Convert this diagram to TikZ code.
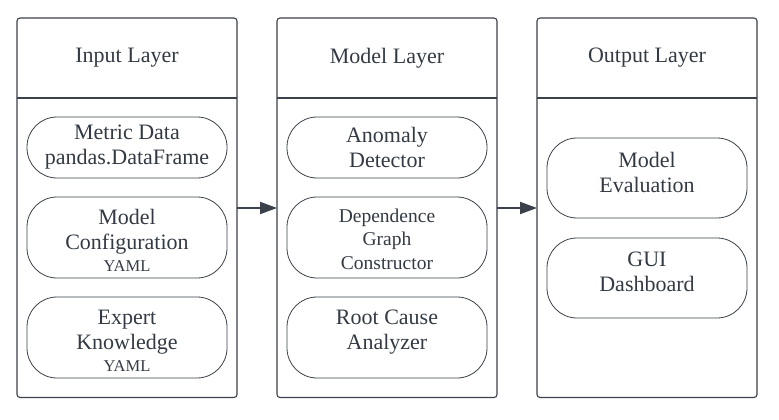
\documentclass[tikz,border=0pt]{standalone}
\usepackage{fontspec}
\setmainfont{Liberation Serif}
\usetikzlibrary{arrows.meta}
\definecolor{ln}{HTML}{3A414A}
\definecolor{tx}{HTML}{333A44}
\newcommand\yamlsz{\fontsize{16.5}{20}\selectfont}
\begin{document}
\begin{tikzpicture}[x=1pt,y=-1pt,
  layer/.style={draw=ln,line width=1.1pt,rounded corners=3pt},
  pill/.style={draw=ln,line width=0.8pt,rounded corners=30pt},
  ttl/.style={text=tx,font=\fontsize{22}{25}\selectfont},
  ptxt/.style={text=tx,align=center,font=\fontsize{22}{25}\selectfont,inner sep=0pt},
  stxt/.style={text=tx,align=center,font=\fontsize{19.5}{23.5}\selectfont,inner sep=0pt},
  flow/.style={draw=ln,line width=2pt,-{Triangle[length=17pt,width=12pt]}}]
\useasboundingbox (0,0) rectangle (779,420);
% layers
\foreach \n/\x/\t in {in/17/Input Layer,mo/277/Model Layer,out/537/Output Layer}{
  \draw[layer] (\x,18) rectangle (\x+220,397.5);
  \draw[ln,line width=1.1pt] (\x,98) -- (\x+220,98);
  \node[ttl] (\n t) at (\x+110,58) {\t};
  \coordinate (\n L) at (\x,208);
  \coordinate (\n R) at (\x+220,208);
}
% input pills
\draw[pill] (27,117) rectangle (227,178);
\node[ptxt] (md) at (127,147.5) {Metric Data\\pandas.DataFrame};
\draw[pill] (27,197) rectangle (227,278);
\node[ptxt] (mc) at (127,240) {Model\\Configuration\\[-3pt]{\yamlsz YAML}};
\draw[pill] (27,297) rectangle (227,378);
\node[ptxt] (ek) at (127,341) {Expert\\Knowledge\\[-3pt]{\yamlsz YAML}};
% model pills
\draw[pill] (287,117) rectangle (487,178);
\node[ptxt] (ad) at (387,147.5) {Anomaly\\Detector};
\draw[pill] (287,197) rectangle (487,278);
\node[stxt] (dg) at (387,239) {Dependence\\Graph\\Constructor};
\draw[pill] (287,297) rectangle (487,378);
\node[ptxt] (rc) at (387,332) {Root Cause\\Analyzer};
% output pills
\draw[pill] (547,138) rectangle (747,218);
\node[ptxt] (me) at (647,172) {Model\\Evaluation};
\draw[pill] (547,238) rectangle (747,318);
\node[ptxt] (gd) at (647,272) {GUI\\Dashboard};
% arrows
\draw[flow] (inR) -- (moL);
\draw[flow] (moR) -- (outL);
\end{tikzpicture}
\end{document}
